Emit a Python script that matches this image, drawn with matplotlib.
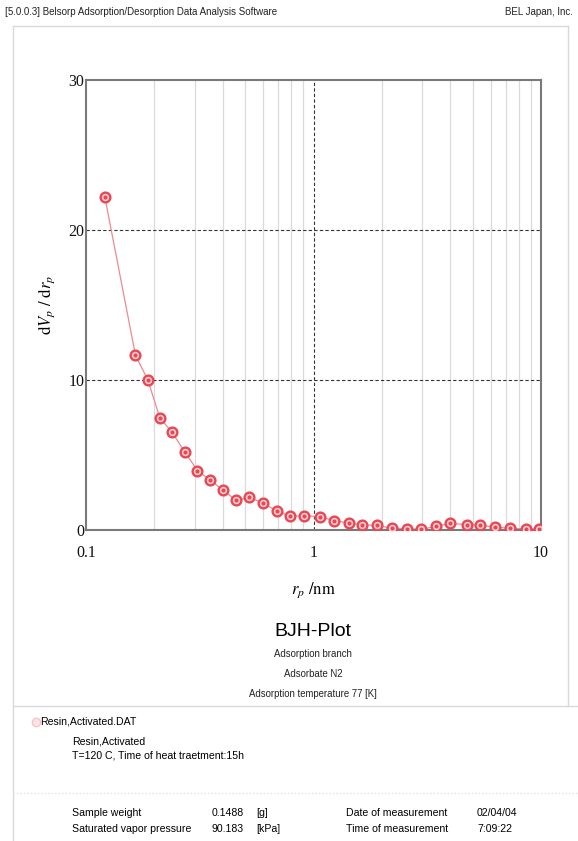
import numpy as np
import matplotlib.pyplot as plt
from matplotlib.lines import Line2D

# pore radius r_p (nm) and dVp/drp
rp = [0.121, 0.165, 0.187, 0.211, 0.239, 0.271, 0.309, 0.352, 0.401, 0.457,
      0.523, 0.601, 0.688, 0.789, 0.910, 1.07, 1.23, 1.43, 1.64, 1.90,
      2.22, 2.57, 2.98, 3.44, 4.00, 4.71, 5.42, 6.26, 7.31, 8.56, 9.84]
dvp = [22.2, 11.65, 10.0, 7.49, 6.51, 5.23, 3.96, 3.31, 2.66, 1.97,
       2.17, 1.79, 1.28, 0.92, 0.94, 0.89, 0.62, 0.47, 0.33, 0.31,
       0.11, 0.09, 0.04, 0.24, 0.44, 0.36, 0.31, 0.20, 0.11, 0.07, 0.07]

x_ticks = [0.1, 1, 10]
x_ticklabels = ['0.1', '1', '10']
y_ticks = [0, 10, 20, 30]

subtitle = ['Adsorption branch', 'Adsorbate N2', 'Adsorption temperature 77 [K]']
info_left = [('Sample weight', '0.1488', '[g]'),
             ('Saturated vapor pressure', '90.183', '[kPa]')]
info_right = [('Date of measurement', '02/04/04'),
              ('Time of measurement', '7:09:22')]

W, H = 578, 841
sans = ['Liberation Sans', 'DejaVu Sans']
serif = ['Liberation Serif', 'DejaVu Serif']
plt.rcParams['mathtext.fontset'] = 'stix'

fig = plt.figure(figsize=(W / 100, H / 100), dpi=100)


def fx(px):
    return px / W


def fy(py):
    return 1 - py / H


# page frame
frame_col = '#d9d9d9'
fig.add_artist(Line2D([fx(13), fx(13)], [fy(26), 0], color=frame_col, lw=1))
fig.add_artist(Line2D([fx(568), fx(568)], [fy(26), fy(706)], color=frame_col, lw=1))
fig.add_artist(Line2D([fx(13), fx(568)], [fy(26), fy(26)], color=frame_col, lw=1))
fig.add_artist(Line2D([fx(13), 1], [fy(706), fy(706)], color=frame_col, lw=1))
fig.add_artist(Line2D([fx(13), 1], [fy(793), fy(793)], color='#e2e2e2', lw=1, ls=(0, (1, 1.5))))

ax = fig.add_axes([fx(86), fy(530), fx(541) - fx(86), fy(80) - fy(530)])
ax.set_xscale('log')
ax.set_xlim(0.1, 10)
ax.set_ylim(0, 30)

# grid: light minor verticals, dashed majors
minor = [m * d for d in (0.1, 1) for m in range(2, 10)]
for v in minor:
    ax.axvline(v, color='#dadada', lw=0.9, zorder=1)
ax.axvline(1, color='#333333', lw=0.8, ls=(0, (3, 2)), zorder=1)
for v in (10, 20):
    ax.axhline(v, color='#333333', lw=0.8, ls=(0, (3, 2)), zorder=1)

ax.plot(rp, dvp, color='#f08990', lw=0.9, zorder=2)
ax.plot(rp, dvp, ls='none', marker='o', ms=7, mfc='#fbd3d6', mec='#e94753', mew=1.7, zorder=3)
ax.plot(rp, dvp, ls='none', marker='o', ms=2, mfc='#e94753', mec='#e94753', zorder=4)

for s in ax.spines.values():
    s.set_color('#7a7a7a')
    s.set_linewidth(1.5)

ax.set_xticks(x_ticks)
ax.set_xticklabels(x_ticklabels)
ax.xaxis.set_minor_locator(plt.NullLocator())
ax.set_yticks(y_ticks)
ax.tick_params(length=0, labelsize=11.5, colors='#111111')
ax.tick_params(axis='x', pad=11)
ax.tick_params(axis='y', pad=1)
for lab in ax.get_xticklabels() + ax.get_yticklabels():
    lab.set_family(serif)

ax.set_ylabel(r'$\mathrm{d}V_p\ /\ \mathrm{d}r_p$', fontsize=12, labelpad=8)
fig.text(fx(313), fy(590), r'$r_p\ \mathrm{/nm}$', fontsize=12, ha='center', va='center')

# header
fig.text(fx(5), fy(12), '[5.0.0.3] Belsorp Adsorption/Desorption Data Analysis Software',
         family=sans, fontsize=7.0, ha='left', va='center', color='#222222')
fig.text(fx(573), fy(12), 'BEL Japan, Inc.', family=sans, fontsize=7.0,
         ha='right', va='center', color='#222222')

# titles
fig.text(fx(313), fy(631), 'BJH-Plot', family=sans, fontsize=14, ha='center', va='center')
for i, t in enumerate(subtitle):
    fig.text(fx(313), fy(654 + 20 * i), t, family=sans, fontsize=6.9, ha='center',
             va='center', color='#222222')

# legend / sample block
fig.add_artist(Line2D([fx(36)], [fy(722)], marker='o', ms=6, mfc='#fde3e5', mec='#f9c5c9',
                      mew=1, ls='none'))
fig.text(fx(40), fy(722), 'Resin,Activated.DAT', family=sans, fontsize=7.6, va='center')
fig.text(fx(72), fy(742), 'Resin,Activated', family=sans, fontsize=7.6, va='center')
fig.text(fx(72), fy(755), 'T=120 C, Time of heat traetment:15h', family=sans, fontsize=7.6,
         va='center')

for i, (name, val, unit) in enumerate(info_left):
    y = fy(813 + 16 * i)
    fig.text(fx(72), y, name, family=sans, fontsize=7.6, va='center')
    fig.text(fx(212), y, val, family=sans, fontsize=7.6, va='center')
    fig.text(fx(256), y, unit, family=sans, fontsize=7.6, va='center')
for i, (name, val) in enumerate(info_right):
    y = fy(813 + 16 * i)
    fig.text(fx(346), y, name, family=sans, fontsize=7.6, va='center')
    fig.text(fx(477), y, val, family=sans, fontsize=7.6, va='center')

fig.savefig('out.png', dpi=100)
